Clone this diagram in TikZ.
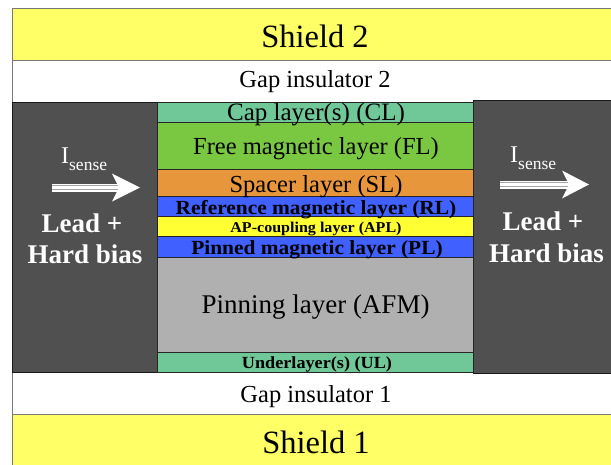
\documentclass[tikz,border=0pt]{standalone}
\usepackage{fontspec}
\setmainfont{Liberation Serif}
\newfontfamily\bfw[FakeStretch=1.07]{Liberation Serif}
\newcommand\fs[1]{\fontsize{#1}{#1}\selectfont}

\definecolor{shieldc}{RGB}{255,255,102}
\definecolor{capc}{RGB}{112,200,152}
\definecolor{freec}{RGB}{122,200,66}
\definecolor{spacerc}{RGB}{232,150,60}
\definecolor{magc}{RGB}{64,96,255}
\definecolor{apc}{RGB}{255,255,51}
\definecolor{afmc}{RGB}{176,176,176}
\definecolor{leadc}{RGB}{80,80,80}
\definecolor{stripec}{RGB}{165,165,165}
\definecolor{edgec}{RGB}{120,120,120}

\tikzset{
  blk/.style={inner sep=0pt, outer sep=0pt, anchor=north west, line width=0.8pt},
  outer/.style={blk, draw=edgec},
  layer/.style={blk, draw=black!85, minimum width=316pt},
  lead/.style={blk, draw=black!90, fill=leadc},
  reg/.style={anchor=base, inner sep=0pt, font=\fs{#1}},
  bld/.style={anchor=base, inner sep=0pt, font=\bfw\bfseries\fs{#1}},
  wbld/.style={anchor=base, inner sep=0pt, text=white, font=\bfseries\fs{#1}},
}

\begin{document}
\begin{tikzpicture}[x=1pt, y=-1pt]
\clip (0,0) rectangle (611,464);
\fill[white] (0,0) rectangle (611,464);

% shields and gap insulators
\node[outer, fill=shieldc, minimum width=610pt, minimum height=52pt] (sh2) at (12,8) {};
\node[outer, fill=white, minimum width=610pt, minimum height=42pt] (gap2) at (12,60) {};
\node[outer, fill=white, minimum width=610pt, minimum height=42pt] (gap1) at (12,372) {};
\node[outer, fill=shieldc, minimum width=610pt, minimum height=60pt] (sh1) at (12,414) {};

% lead / hard bias blocks
\node[lead, minimum width=145pt, minimum height=270pt] (leadL) at (12,102) {};
\node[lead, minimum width=150pt, minimum height=273pt] (leadR) at (473,100) {};

% sensor stack
\node[layer, fill=capc,    minimum height=20pt] (cl)  at (157,102) {};
\node[layer, fill=freec,   minimum height=47pt] (fl)  at (157,122) {};
\node[layer, fill=spacerc, minimum height=27pt] (sl)  at (157,169) {};
\node[layer, fill=magc,    minimum height=20pt] (rl)  at (157,196) {};
\node[layer, fill=apc,     minimum height=20pt] (apl) at (157,216) {};
\node[layer, fill=magc,    minimum height=21pt] (pl)  at (157,236) {};
\node[layer, fill=afmc,    minimum height=95pt] (afm) at (157,257) {};
\node[layer, fill=capc,    minimum height=20pt] (ul)  at (157,352) {};

% labels
\node[reg=32.5] (tsh2) at (315,47) {Shield 2};
\node[reg=24.5] (tgap2) at (315,87) {Gap insulator 2};
\node[reg=24.5] (tgap1) at (316,402) {Gap insulator 1};
\node[reg=32.5] (tsh1) at (316,453) {Shield 1};

\node[reg=25] (tcl)  at (316,120) {Cap layer(s) (CL)};
\node[reg=24.5] (tfl)  at (316,154) {Free magnetic layer (FL)};
\node[reg=24.5] (tsl)  at (316,192) {Spacer layer (SL)};
\node[bld=20] (trl)  at (316,214) {Reference magnetic layer (RL)};
\node[bld=15] (tapl) at (316,232) {AP-coupling layer (APL)};
\node[bld=20] (tpl)  at (317,254) {Pinned magnetic layer (PL)};
\node[reg=27] (tafm) at (315.5,313) {Pinning layer (AFM)};
\node[bld=17] (tul)  at (317,368) {Underlayer(s) (UL)};

\node[wbld=27] (lL1) at (82,232) {Lead +};
\node[wbld=27] (lL2) at (85,263) {Hard bias};
\node[wbld=27] (lR1) at (543,230) {Lead +};
\node[wbld=27] (lR2) at (546.5,262) {Hard bias};

% sense current labels
\node[anchor=base west, inner sep=0pt, text=white, font=\fs{24}] (iL) at (61,163)
  {I\raisebox{-7pt}{\fs{17.5}sense}};
\node[anchor=base west, inner sep=0pt, text=white, font=\fs{24}] (iR) at (510,162)
  {I\raisebox{-7pt}{\fs{17.5}sense}};

% sense current arrows
\coordinate (aLs) at (52,187.5);
\coordinate (aLe) at (124,187.5);
\coordinate (aLt) at (140,187.5);
\coordinate (aRs) at (500,184.5);
\coordinate (aRe) at (573,184.5);
\coordinate (aRt) at (589,184.5);

\draw[white, line width=8pt] (aLs) -- (aLe);
\draw[stripec, line width=1.1pt] ([yshift=-1.9pt]aLs) -- ([yshift=-1.9pt]aLe);
\draw[stripec, line width=1.1pt] ([yshift=1.9pt]aLs) -- ([yshift=1.9pt]aLe);
\fill[white] (aLt) -- ++(-28,-14) -- ++(7,14) -- ++(-7,14) -- cycle;

\draw[white, line width=8pt] (aRs) -- (aRe);
\draw[stripec, line width=1.1pt] ([yshift=-1.9pt]aRs) -- ([yshift=-1.9pt]aRe);
\draw[stripec, line width=1.1pt] ([yshift=1.9pt]aRs) -- ([yshift=1.9pt]aRe);
\fill[white] (aRt) -- ++(-27,-14) -- ++(7,14) -- ++(-7,14) -- cycle;
\end{tikzpicture}
\end{document}
